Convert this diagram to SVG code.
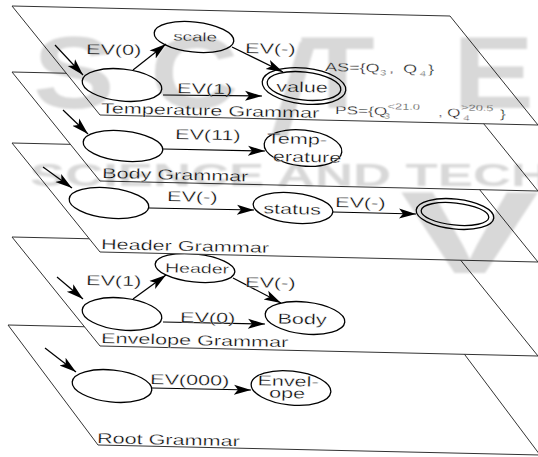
<svg xmlns="http://www.w3.org/2000/svg" width="538" height="457" viewBox="0 0 538 457">
<defs>
  <marker id="ah" markerWidth="19" markerHeight="12" refX="17" refY="6" orient="auto" markerUnits="userSpaceOnUse">
    <path d="M0,1 L17,6 L0,11 L4,6 z" fill="#000"/>
  </marker>
  <filter id="soft" x="-5%" y="-5%" width="110%" height="110%">
    <feGaussianBlur stdDeviation="1.2"/>
  </filter>
</defs>
<style>
  .plane{fill:#fff;stroke:#333;stroke-width:1}
  .st{fill:#fff;stroke:#000;stroke-width:1.3}
  .ed{fill:none;stroke:#000;stroke-width:1.2;marker-end:url(#ah)}
  text{font-family:"Liberation Sans",Arial,sans-serif;fill:#000;stroke:#fff;stroke-width:0.3px}
  .t{font-size:14.4px}
  .c{text-anchor:middle}
  .wm{font-family:"Liberation Sans",Arial,sans-serif;font-weight:bold;fill:#d8d8d8;stroke:none}
</style>
<rect width="538" height="457" fill="#fff"/>

<!-- Root Grammar layer (bottom) -->
<g id="root-grammar">
  <polygon class="plane" points="8,325 450,335 540,455 98,445"/>
  <text class="t" transform="translate(97,443) rotate(1.3) scale(1.5,1)">Root Grammar</text>
</g>
<g id="root-start"><ellipse class="st" cx="112" cy="386" rx="40" ry="16" transform="rotate(6 112 386)"/></g>
<g id="root-envelope">
  <ellipse class="st" cx="291" cy="388" rx="40" ry="17" transform="rotate(6 291 388)"/>
  <text class="t c" transform="translate(288,386) rotate(1.3) scale(1.5,1)">Envel-</text>
  <text class="t c" transform="translate(287,398) rotate(1.3) scale(1.5,1)">ope</text>
</g>
<g id="root-edges">
  <line class="ed" x1="45" y1="348" x2="76" y2="372"/>
  <line class="ed" x1="152" y1="388" x2="251" y2="390"/>
  <text class="t" transform="translate(150,384) rotate(1.3) scale(1.5,1)">EV(000)</text>
</g>

<!-- Envelope Grammar layer -->
<g id="envelope-grammar">
  <polygon class="plane" points="12,237 450,247 538,356 100,346"/>
  <text class="t" transform="translate(101,343) rotate(1.3) scale(1.5,1)">Envelope Grammar</text>
</g>
<g id="envelope-start"><ellipse class="st" cx="122" cy="314" rx="40" ry="16" transform="rotate(6 122 314)"/></g>
<g id="envelope-header">
  <ellipse class="st" cx="195" cy="268" rx="40" ry="14" transform="rotate(6 195 268)"/>
  <text class="c" font-size="13" transform="translate(197,273) rotate(1.3) scale(1.5,1)">Header</text>
</g>
<g id="envelope-body">
  <ellipse class="st" cx="305" cy="318" rx="40" ry="16" transform="rotate(6 305 318)"/>
  <text class="t c" transform="translate(302,324) rotate(1.3) scale(1.5,1)">Body</text>
</g>
<g id="envelope-edges">
  <line class="ed" x1="57" y1="277" x2="83" y2="299"/>
  <line class="ed" x1="133" y1="299" x2="166" y2="275"/>
  <text class="t" transform="translate(86,285) rotate(1.3) scale(1.5,1)">EV(1)</text>
  <line class="ed" x1="163" y1="322" x2="265" y2="324"/>
  <text class="t" transform="translate(180,322) rotate(1.3) scale(1.5,1)">EV(0)</text>
  <line class="ed" x1="233" y1="278" x2="281" y2="303"/>
  <text class="t" transform="translate(245,287) rotate(1.3) scale(1.5,1)">EV(-)</text>
</g>

<!-- Header Grammar layer -->
<g id="header-grammar">
  <polygon class="plane" points="12,143 450,153 538,262 100,252"/>
  <text class="t" transform="translate(101,249) rotate(1.3) scale(1.5,1)">Header Grammar</text>
</g>
<g id="header-start"><ellipse class="st" cx="109" cy="203" rx="40" ry="15" transform="rotate(6 109 203)"/></g>
<g id="header-status">
  <ellipse class="st" cx="293" cy="208" rx="40" ry="15" transform="rotate(6 293 208)"/>
  <text class="t c" transform="translate(292,214) rotate(1.3) scale(1.5,1)">status</text>
</g>
<g id="header-final">
  <ellipse class="st" cx="455" cy="214" rx="39" ry="15" transform="rotate(6 455 214)"/>
  <ellipse class="st" cx="455" cy="214" rx="34" ry="11" transform="rotate(6 455 214)"/>
</g>
<g id="header-edges">
  <line class="ed" x1="43" y1="167" x2="72" y2="188"/>
  <line class="ed" x1="149" y1="208" x2="254" y2="210"/>
  <text class="t" transform="translate(167,201) rotate(1.3) scale(1.5,1)">EV(-)</text>
  <line class="ed" x1="333" y1="212" x2="416" y2="214"/>
  <text class="t" transform="translate(335,207) rotate(1.3) scale(1.5,1)">EV(-)</text>
</g>

<!-- Body Grammar layer -->
<g id="body-grammar">
  <polygon class="plane" points="12,72 450,82 538,191 100,181"/>
  <text class="t" transform="translate(102,178) rotate(1.3) scale(1.5,1)">Body Grammar</text>
</g>
<g id="body-start"><ellipse class="st" cx="123" cy="146" rx="40" ry="15" transform="rotate(6 123 146)"/></g>
<g id="body-temperature">
  <ellipse class="st" cx="303" cy="148" rx="39" ry="18" transform="rotate(6 303 148)"/>
  <text class="t c" transform="translate(297,144) rotate(1.3) scale(1.5,1)">Temp-</text>
  <text class="t c" transform="translate(307,162) rotate(1.3) scale(1.5,1)">erature</text>
</g>
<g id="body-edges">
  <line class="ed" x1="63" y1="110" x2="88" y2="134"/>
  <line class="ed" x1="163" y1="149" x2="265" y2="151"/>
  <text class="t" transform="translate(175,139) rotate(1.3) scale(1.5,1)">EV(11)</text>
</g>

<!-- Temperature Grammar layer (top) -->
<g id="temperature-grammar">
  <polygon class="plane" points="12,6 450,16 538,125 100,115"/>
  <text class="t" transform="translate(101,113) rotate(1.3) scale(1.5,1)">Temperature Grammar</text>
  <text font-size="12" transform="translate(325,71) rotate(1.3) scale(1.5,1)">AS={Q<tspan x="36.7" y="3" font-size="7.5">3</tspan><tspan x="42.7" y="0">,</tspan><tspan x="52" y="0">Q</tspan><tspan x="63.3" y="3" font-size="7.5">4</tspan><tspan x="68.7" y="0">}</tspan></text>
  <text font-size="11.5" transform="translate(335,114) rotate(1.3) scale(1.5,1)">PS={Q<tspan x="32.5" y="3.5" font-size="7.5">3</tspan><tspan x="35" y="-6" font-size="8.5">&lt;21.0</tspan><tspan x="68.7" y="0">,</tspan><tspan x="74.7" y="0">Q</tspan><tspan x="84" y="-6.5" font-size="8.5">&gt;20.5</tspan><tspan x="85.5" y="3.5" font-size="7.5">4</tspan><tspan x="110" y="0">}</tspan></text>
</g>
<g id="temperature-start"><ellipse class="st" cx="122" cy="85" rx="40" ry="16" transform="rotate(6 122 85)"/></g>
<g id="temperature-scale">
  <ellipse class="st" cx="194" cy="37" rx="40" ry="15" transform="rotate(6 194 37)"/>
  <text class="c" font-size="12.5" transform="translate(195,41) rotate(1.3) scale(1.5,1)">scale</text>
</g>
<g id="temperature-value">
  <ellipse class="st" cx="304" cy="86" rx="42" ry="18" transform="rotate(6 304 86)"/>
  <ellipse class="st" cx="304" cy="86" rx="37" ry="14" transform="rotate(6 304 86)"/>
  <text class="t c" transform="translate(302,92) rotate(1.3) scale(1.5,1)">value</text>
</g>
<g id="temperature-edges">
  <line class="ed" x1="55" y1="45" x2="83" y2="75"/>
  <line class="ed" x1="133" y1="70" x2="166" y2="44"/>
  <text class="t" transform="translate(86,54) rotate(1.3) scale(1.5,1)">EV(0)</text>
  <line class="ed" x1="163" y1="95" x2="262" y2="96"/>
  <text class="t" transform="translate(177,93) rotate(1.3) scale(1.5,1)">EV(1)</text>
  <line class="ed" x1="232" y1="47" x2="283" y2="72"/>
  <text class="t" transform="translate(245,53) rotate(1.3) scale(1.5,1)">EV(-)</text>
</g>

<!-- publisher watermark, multiplied over the layers -->
<g id="watermark" filter="url(#soft)" style="mix-blend-mode:multiply">
  <text class="wm" font-size="102" transform="scale(1.2,1)" y="108"><tspan x="27.5">S</tspan><tspan x="125">C</tspan><tspan x="214" y="132" font-size="140" font-weight="normal" rotate="14">I</tspan><tspan x="250" y="108">T</tspan><tspan x="377">E</tspan></text>
  <text class="wm" font-size="32" x="30" y="186" textLength="519" lengthAdjust="spacingAndGlyphs">SCIENCE AND TECH</text>
  <text class="wm" font-size="116" transform="translate(400,273) scale(1.8,1)">V</text>
</g>
</svg>
